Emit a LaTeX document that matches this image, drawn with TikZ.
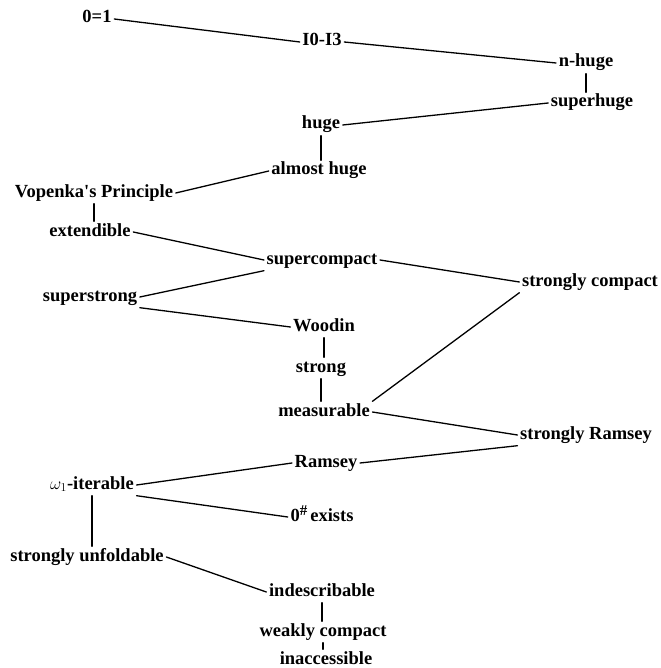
\documentclass[tikz,border=0pt]{standalone}
\usepackage{fontspec}
\setmainfont{Liberation Serif}[Ligatures=TeXOff]
\begin{document}
\begin{tikzpicture}[x=1pt,y=-1pt,
  lbl/.style={font=\fontsize{18.5}{22}\selectfont\bfseries, inner sep=2.5pt, text height=12pt, text depth=4pt},
  conn/.style={line width=1.3pt, line cap=round}]
\fill[white] (0,0) rectangle (660,668);
\useasboundingbox (0,0) rectangle (660,668);
\node[lbl] (z01) at (97,19) {0=1};
\node[lbl] (I03) at (322,42) {I0-I3};
\node[lbl] (nhuge) at (586,63) {n-huge};
\node[lbl] (shuge) at (592,103) {superhuge};
\node[lbl] (huge) at (321,125) {huge};
\node[lbl] (almost) at (319,171) {almost huge};
\node[lbl] (vop) at (94,193) {Vopenka's Principle};
\node[lbl] (ext) at (90,232) {extendible};
\node[lbl] (supc) at (322,260) {supercompact};
\node[lbl] (strc) at (590,282) {strongly compact};
\node[lbl] (sstrong) at (90,297) {superstrong};
\node[lbl] (woodin) at (324,327) {Woodin};
\node[lbl] (strong) at (321,368) {strong};
\node[lbl] (meas) at (324,412) {measurable};
\node[lbl] (sram) at (586,435) {strongly Ramsey};
\node[lbl] (ramsey) at (326,463) {Ramsey};
\node[lbl] (omega) at (92,485) {$\omega_1$-iterable};
\node[lbl] (zsharp) at (322,517) {0\raisebox{6pt}{\fontsize{15}{15}\selectfont\#}\,exists};
\node[lbl] (sunf) at (87,557) {strongly unfoldable};
\node[lbl] (ind) at (322,592) {indescribable};
\node[lbl] (wc) at (323,632) {weakly compact};
\node[lbl] (inacc) at (326,660) {inaccessible};

\draw[conn] (z01.east) -- (I03.west);
\draw[conn] (I03.east) -- (nhuge.west);
\draw[conn] (nhuge.south) -- (nhuge.south |- shuge.north);
\draw[conn] (shuge.west) -- (huge.east);
\draw[conn] (huge.south) -- (huge.south |- almost.north);
\draw[conn] (almost.west) -- (vop.east);
\draw[conn] (vop.south) -- (vop.south |- ext.north);
\draw[conn] (ext.east) -- (supc.west);
\draw[conn] (sstrong.east) -- (supc.south west);
\draw[conn] (sstrong.south east) -- (woodin.west);
\draw[conn] (supc.east) -- (strc.west);
\draw[conn] (strc.south west) -- (meas.north east);
\draw[conn] (woodin.south) -- (woodin.south |- strong.north);
\draw[conn] (strong.south) -- (strong.south |- meas.north);
\draw[conn] (meas.east) -- (sram.west);
\draw[conn] (sram.south west) -- (ramsey.east);
\draw[conn] (ramsey.west) -- (omega.east);
\draw[conn] (omega.south east) -- (zsharp.west);
\draw[conn] (omega.south) -- (omega.south |- sunf.north);
\draw[conn] (sunf.east) -- (ind.west);
\draw[conn] (ind.south) -- (ind.south |- wc.north);
\draw[conn] (wc.south) -- (wc.south |- inacc.north);
\end{tikzpicture}
\end{document}
